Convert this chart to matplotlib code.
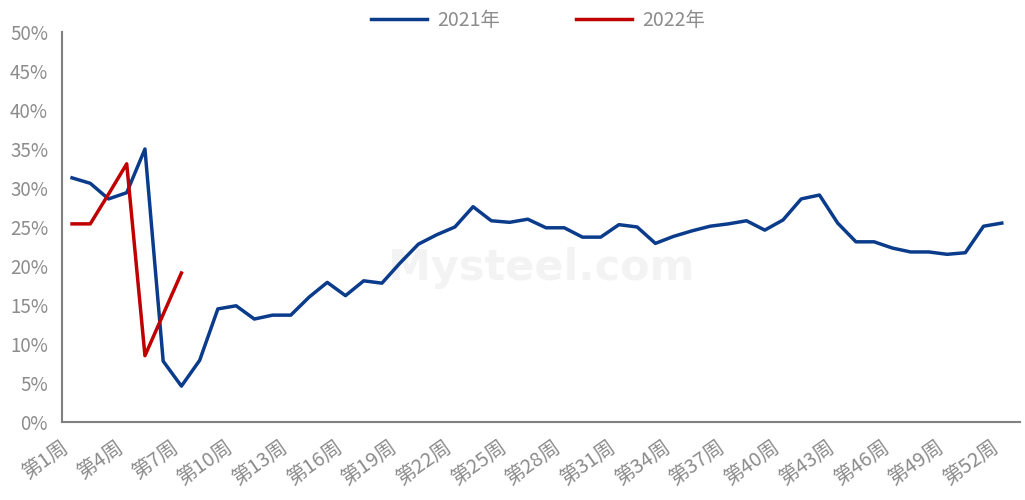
import matplotlib
matplotlib.use("Agg")
import matplotlib.pyplot as plt
from matplotlib.transforms import ScaledTranslation

plt.rcParams['font.family'] = ['Noto Sans CJK SC', 'DejaVu Sans']

weeks = list(range(1, 53))
week_labels = [f"第{w}周" for w in weeks]
tick_weeks = list(range(1, 53, 3))

y2021 = [31.3, 30.6, 28.6, 29.4, 35.0, 7.8, 4.6, 7.9, 14.5, 14.9,
         13.2, 13.7, 13.7, 16.0, 17.9, 16.2, 18.1, 17.8, 20.4, 22.8,
         24.0, 25.0, 27.6, 25.8, 25.6, 26.0, 24.9, 24.9, 23.7, 23.7,
         25.3, 25.0, 22.9, 23.8, 24.5, 25.1, 25.4, 25.8, 24.6, 25.9,
         28.6, 29.1, 25.5, 23.1, 23.1, 22.3, 21.8, 21.8, 21.5, 21.7,
         25.1, 25.5]
y2022 = [25.4, 25.4, 29.2, 33.1, 8.5, 13.8, 19.1]

yticks = list(range(0, 51, 5))
gray = '#8c8c8c'

fig = plt.figure(figsize=(10.25, 5), dpi=100)
ax = fig.add_axes([62/1025, 1-422/500, (1020-62)/1025, (422-32)/500])

# faint watermark behind data
ax.text(0.50, 0.395, 'Mysteel.com', transform=ax.transAxes, fontsize=31, color='#f3f3f3',
        ha='center', va='center', fontweight='bold', zorder=0, family='DejaVu Sans')

ax.plot(weeks, y2021, color='#0B3C8C', lw=2.5, label='2021年', zorder=3)
ax.plot(weeks[:len(y2022)], y2022, color='#C00000', lw=2.5, label='2022年', zorder=4)

ax.set_ylim(0, 50)
ax.set_xlim(0.45, 53.0)
ax.set_yticks(yticks)
ax.set_yticklabels([f"{v}%" for v in yticks], color=gray, fontsize=13.5, fontweight='light')
ax.set_xticks(tick_weeks)
ax.set_xticklabels([week_labels[w-1] for w in tick_weeks], rotation=35, ha='right',
                   rotation_mode='anchor', color=gray, fontsize=14.5, fontweight='light')
ax.tick_params(axis='y', length=0, pad=10)
ax.tick_params(axis='x', length=0, pad=11)
shift = ScaledTranslation(-0.11, 0, fig.dpi_scale_trans)
for lbl in ax.get_xticklabels():
    lbl.set_transform(lbl.get_transform() + shift)
for s in ['top', 'right']:
    ax.spines[s].set_visible(False)
for s in ['left', 'bottom']:
    ax.spines[s].set_color('#808080')
    ax.spines[s].set_linewidth(1.5)

leg = fig.legend(loc='center', bbox_to_anchor=(538/1025, 1-20/500), ncol=2, frameon=False,
                 prop={'size': 14, 'weight': 'light'}, handlelength=2.9, columnspacing=3.9,
                 handletextpad=0.5)
for t in leg.get_texts():
    t.set_color(gray)

fig.savefig('out.png', dpi=100)
